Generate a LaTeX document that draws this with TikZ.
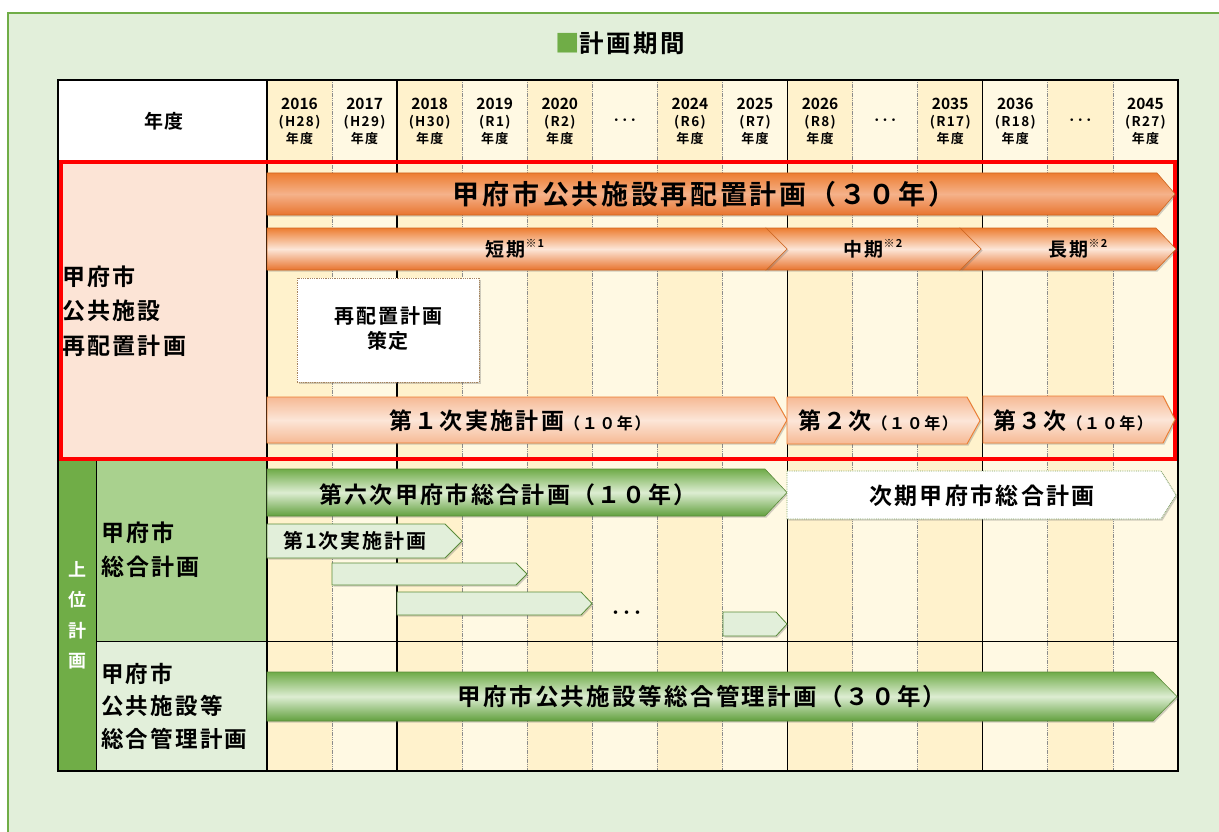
\documentclass[tikz,border=0pt]{standalone}
\usepackage{fontspec}
\setmainfont{Noto Sans CJK JP Bold}[LetterSpace=10]
\newfontfamily\hdrfont{Noto Sans CJK JP Bold}
\usetikzlibrary{shadows}
\definecolor{panel}{HTML}{E2EFDA}
\definecolor{panelEdge}{HTML}{70AD47}
\definecolor{colDark}{HTML}{FFF2CC}
\definecolor{colLight}{HTML}{FFF9E3}
\definecolor{peach}{HTML}{FCE4D6}
\definecolor{gDark}{HTML}{70AD47}
\definecolor{gMid}{HTML}{A9D18E}
\definecolor{gLight}{HTML}{E2EFDA}
\definecolor{oDark}{HTML}{ED7D31}
\definecolor{oDark2}{HTML}{E8742F}
\definecolor{oMid}{HTML}{F5B28A}
\definecolor{oPale}{HTML}{FCE6D8}
\definecolor{oLight}{HTML}{F6B994}
\definecolor{oEdge}{HTML}{D0661F}
\definecolor{gTop}{HTML}{6FAB48}
\definecolor{gMidL}{HTML}{DDEDD2}
\definecolor{gBot}{HTML}{62A03E}
\definecolor{gEdge}{HTML}{5B8C3A}
\definecolor{boxEdge}{HTML}{A5835F}
\definecolor{gridGray}{HTML}{8C8C8C}
\newcommand\pent[6]{\path[#1] (#2,#3) -- ({#4-#6},#3) -- (#4,{(#3+#5)/2}) -- ({#4-#6},#5) -- (#2,#5) -- cycle;}
\newcommand\chev[7]{\path[#1] (#2,#3) -- ({#4-#6},#3) -- (#4,{(#3+#5)/2}) -- ({#4-#6},#5) -- (#2,#5) -- ({#2+#7},{(#3+#5)/2}) -- cycle;}
\newcommand\fsz[2]{\fontsize{#1}{#2}\selectfont}
\begin{document}
\begin{tikzpicture}[x=1pt,y=-1pt,
  every node/.style={inner sep=0pt,outer sep=0pt,text=black},
  lbl/.style={align=left,anchor=west},
  shadowed/.style={drop shadow={shadow xshift=1.5pt,shadow yshift=-1.5pt,opacity=.3,fill=black!60}},
  oBig/.style={top color=oDark,bottom color=oDark2,middle color=oMid,draw=oEdge,line width=.6,shadowed},
  oTerm/.style={top color=oDark,bottom color=oDark2,middle color=oPale,draw=oEdge,line width=.6,shadowed},
  oImpl/.style={top color=oLight,bottom color=oLight,middle color=oPale,draw=oDark,line width=.9,shadowed},
  gBig/.style={top color=gTop,bottom color=gBot,middle color=gMidL,draw=gEdge,line width=.6,shadowed},
  gSmall/.style={fill=gLight,draw=gEdge,line width=.8,shadowed},
  gWhite/.style={fill=white,draw=gEdge!80,densely dotted,line width=.8,shadowed},
  grayline/.style={gridGray,line width=.8,dash pattern=on 1.2pt off .6pt},
  blackline/.style={black,line width=1.4}]
\useasboundingbox (0,0) rectangle (1219,832);
\fill[white] (0,0) rectangle (1219,832);
\fill[panel] (8,13) rectangle (1225,840);
\draw[panelEdge,line width=2] (8,840) -- (8,13) -- (1225,13);
% title
\node (title) at (620,43) {\fsz{24.5}{24.5}\textcolor{panelEdge}{■}計画期間};
% columns
\foreach \i in {0,...,13}{
  \pgfmathtruncatemacro\pp{mod(\i,2)}
  \ifnum\pp=0 \def\cc{colDark}\else\def\cc{colLight}\fi
  \fill[\cc] ({267+65.07*\i},80) rectangle ({267+65.07*(\i+1)},771);
}
% left cells
\fill[white] (58,80) rectangle (267,162);
\fill[peach] (58,162) rectangle (267,460);
\fill[gDark] (58,460) rectangle (96,771);
\fill[gMid] (96,460) rectangle (267,641);
\fill[gLight] (96,641) rectangle (267,771);
% grid
\foreach \i in {1,3,4,5,6,7,9,10,12,13}
  \draw[grayline] ({267+65.07*\i},80) -- ({267+65.07*\i},771);
\foreach \i in {0,2,8,11}
  \draw[blackline] ({267+65.07*\i},80) -- ({267+65.07*\i},771);
\draw[black,line width=1.2] (58,162) -- (1178,162) (58,460) -- (1178,460);
\draw[black,line width=.8] (96,641) -- (1178,641);
\draw[black,line width=.6] (96,460) -- (96,771);
\draw[black,line width=1.6] (58,80) rectangle (1178,771);
% header
\node (hd) at (164,121) {\fsz{19}{19}年度};
\foreach \i/\a/\b in {1/2016/H28,2/2017/H29,3/2018/H30,4/2019/R1,5/2020/R2,7/2024/R6,8/2025/R7,9/2026/R8,11/2035/R17,12/2036/R18,14/2045/R27}{
  \node (yr\i) at ({267+65.07*(\i-0.5)},104) {\hdrfont\fsz{15.5}{15.5}\a};
  \node (gn\i) at ({267+65.07*(\i-0.5)},122) {\fsz{13.5}{13.5}(\b)};
  \node (nd\i) at ({267+65.07*(\i-0.5)},139) {\fsz{13}{13}年度};
}
\foreach \i in {6,10,13}
  \node (dt\i) at ({267+65.07*(\i-0.5)},122) {\fsz{14}{14}･･･};
% left labels
\node[lbl,font=\fsz{23}{34.5}] (l1) at (62,311) {甲府市\\公共施設\\再配置計画};
\node[align=center,text=white,font=\fsz{18}{30.5}] (ui) at (77,615.5) {上\\位\\計\\画};
\node[lbl,font=\fsz{23}{34}] (l2) at (101,550) {甲府市\\総合計画};
\node[lbl,font=\fsz{22.5}{32.5}] (l3) at (101,706) {甲府市\\公共施設等\\総合管理計画};
% red box
\draw[red,line width=4] (60.5,162.5) rectangle (1175,458.5);
% orange bars
\pent{oBig}{267}{173}{1175}{215}{18}
\node (b1) at (704,194) {\fsz{27}{27}甲府市公共施設再配置計画（３０年）};
\chev{oTerm}{960}{228}{1176}{270}{20}{21}
\chev{oTerm}{766}{228}{981}{270}{21}{21}
\pent{oTerm}{267}{228}{787}{270}{21}
\node (t1) at (515,249) {\fsz{19}{19}短期\raisebox{.45em}{\fsz{11}{11}※1}};
\node (t2) at (873,249) {\fsz{19}{19}中期\raisebox{.45em}{\fsz{11}{11}※2}};
\node (t3) at (1078,249) {\fsz{19}{19}長期\raisebox{.45em}{\fsz{11}{11}※2}};
\path[fill=white,draw=boxEdge,densely dotted,line width=.8,shadowed] (297,278) rectangle (479,382);
\node[align=center,font=\fsz{20}{25}] (sak) at (388,329) {再配置計画\\策定};
\pent{oImpl}{267}{397}{787}{443}{13}
\pent{oImpl}{787}{397}{980}{444}{13}
\pent{oImpl}{983}{396}{1175}{443}{12}
\node (i1) at (520,421) {\fsz{23}{23}第１次実施計画{\fsz{16}{16}（１０年）}};
\node (i2) at (878,421) {\fsz{23}{23}第２次{\fsz{16}{16}（１０年）}};
\node (i3) at (1073,421) {\fsz{23}{23}第３次{\fsz{16}{16}（１０年）}};
% green bars
\pent{gBig}{267}{469}{787}{516}{22}
\node (s1) at (508,495) {\fsz{23}{23}第六次甲府市総合計画（１０年）};
\pent{gWhite}{787}{471}{1176}{519}{15}
\node (s2) at (982,496) {\fsz{23}{23}次期甲府市総合計画};
\pent{gSmall}{267}{524}{462}{558}{17}
\node (p1) at (355,541) {\fsz{20}{20}第1次実施計画};
\pent{gSmall}{332}{563}{527}{585}{11}
\pent{gSmall}{397}{592}{592}{615}{11}
\pent{gSmall}{723}{612}{787}{636}{11}
\node (dd) at (627,615) {\fsz{18}{18}･･･};
\pent{gBig}{267}{672}{1177}{721}{24}
\node (m1) at (702,697) {\fsz{23.5}{23.5}甲府市公共施設等総合管理計画（３０年）};
\end{tikzpicture}
\end{document}
